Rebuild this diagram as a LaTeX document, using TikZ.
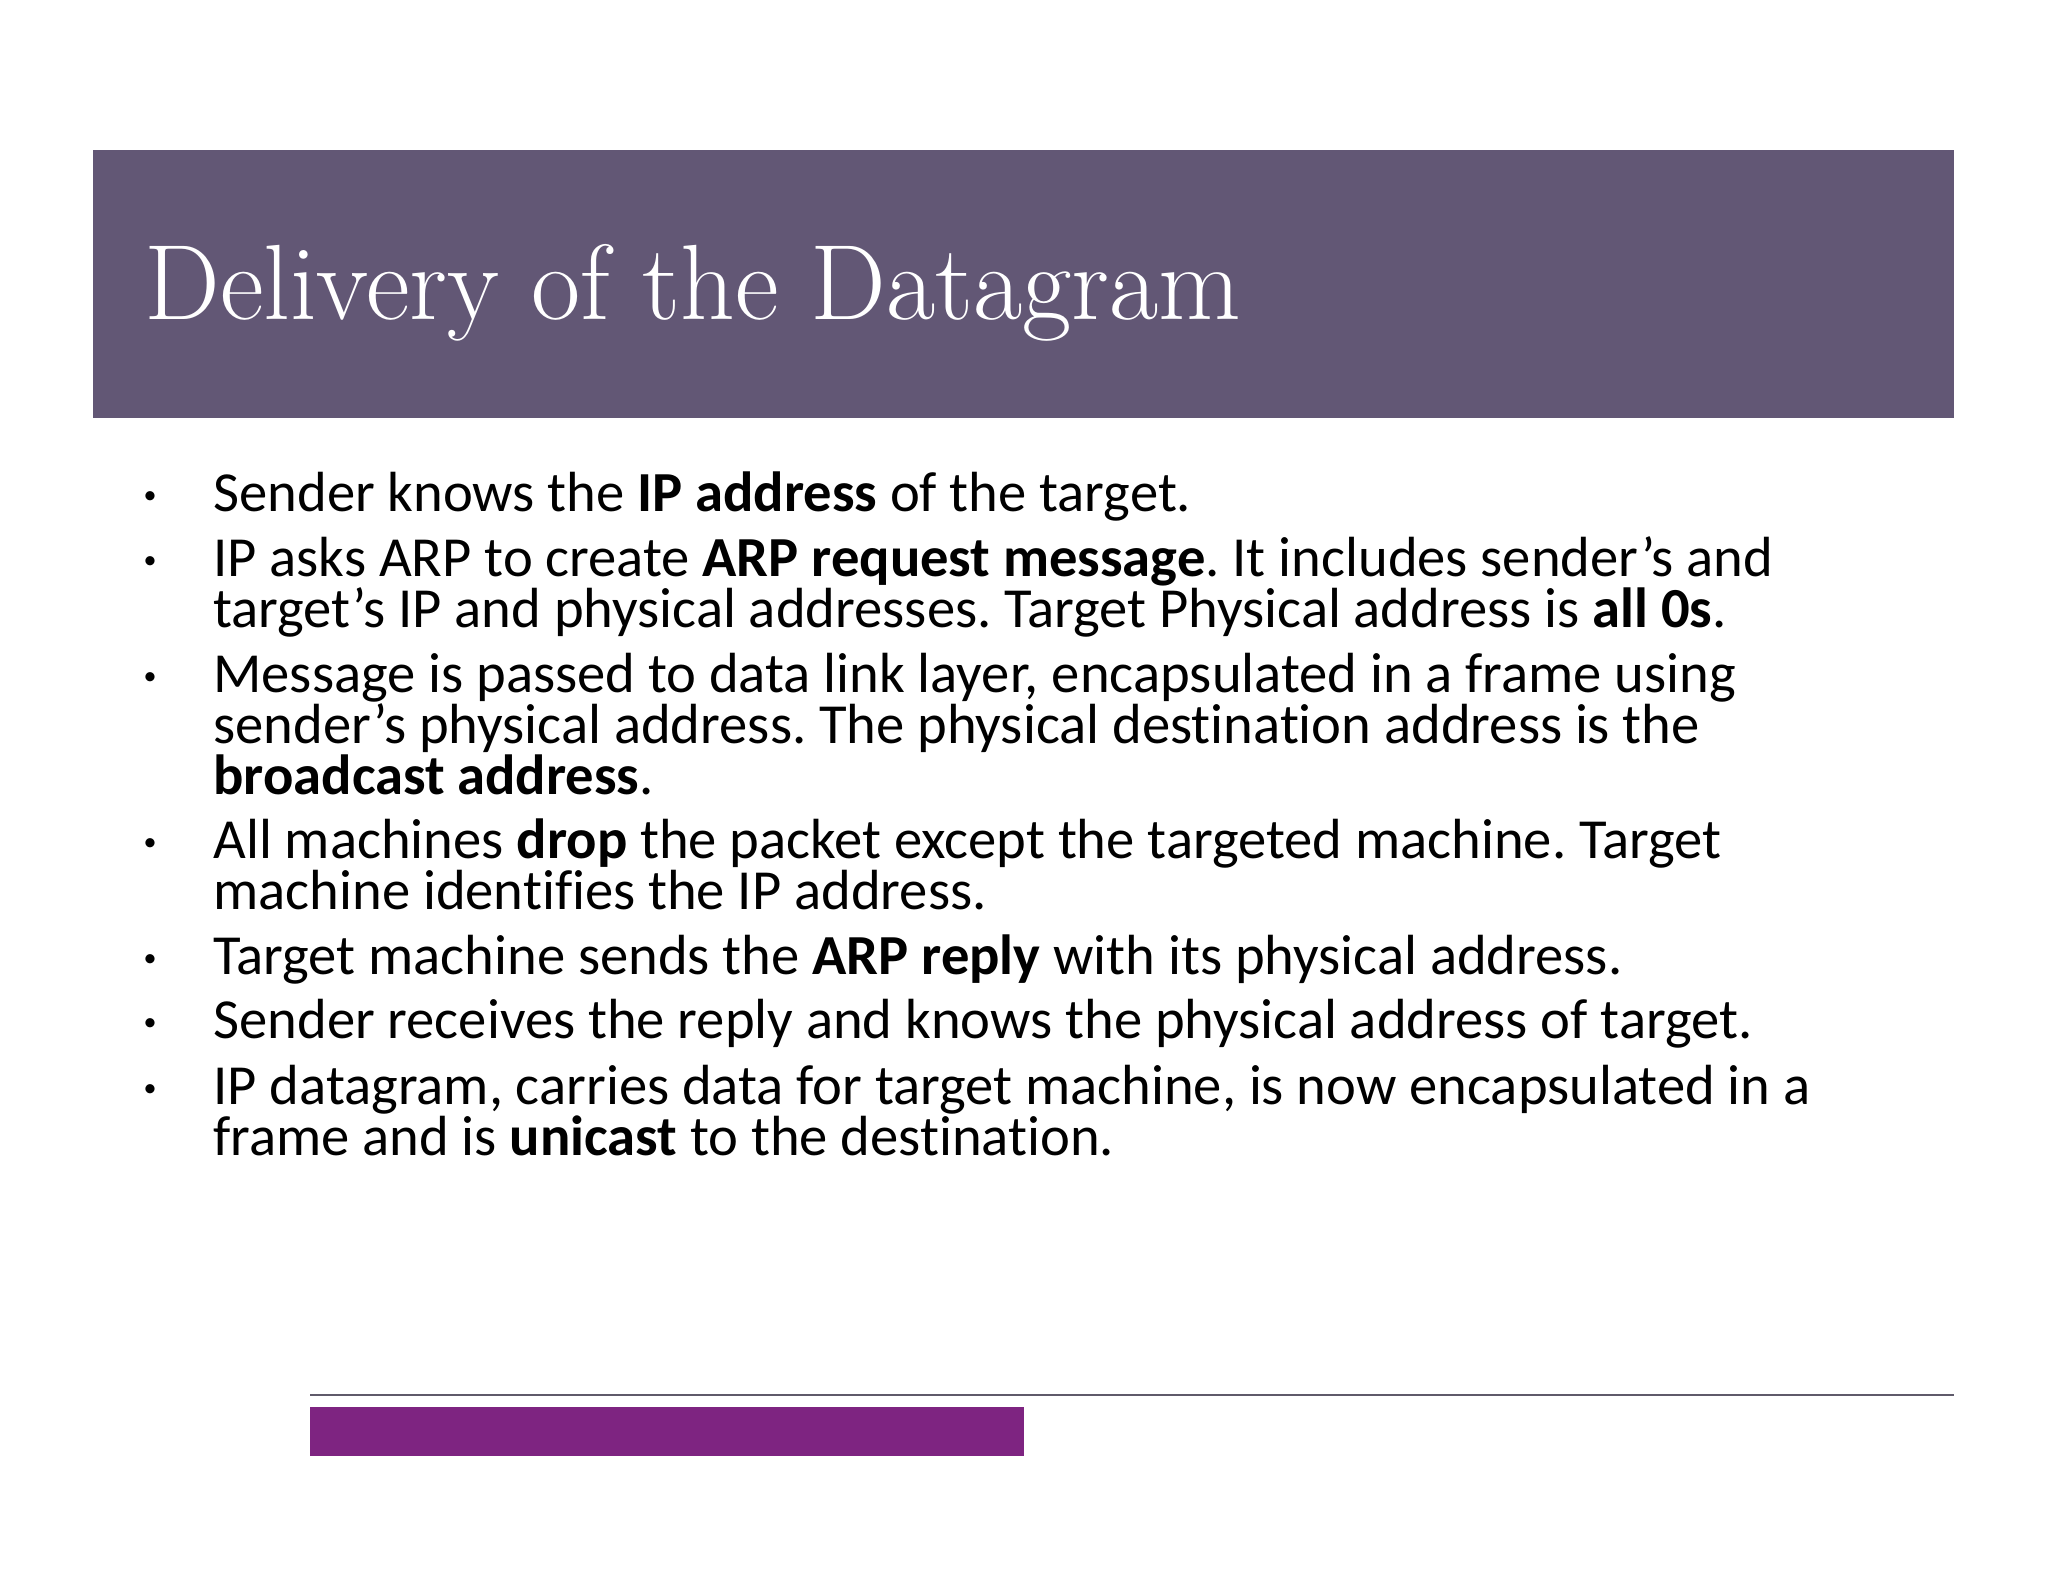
\documentclass[tikz,border=0pt]{standalone}
\usepackage{fontspec}
\setsansfont{Carlito}[Ligatures=NoCommon]
\definecolor{hdr}{HTML}{625775}
\definecolor{bar}{HTML}{7E2481}
\definecolor{rule}{HTML}{5F5A6A}
\frenchspacing
\begin{document}
\begin{tikzpicture}[x=0.5pt,y=-0.5pt,
  body/.style={anchor=base west,inner sep=0,font=\sffamily\fontsize{28.3}{30}\selectfont},
  bul/.style={anchor=base,inner sep=0,font=\sffamily\fontsize{13}{14}\selectfont}]
\useasboundingbox (0,0) rectangle (2048,1582);
\fill[white] (0,0) rectangle (2048,1582);
\fill[hdr] (93,150) rectangle (1954,418);
\node[anchor=base west,inner sep=0,text=white,font=\fontsize{53.5}{60}\selectfont] (title) at (144,320) {Delivery of the Datagram};
\foreach \y in {512,576,692,858,974,1038,1104} {\node[bul] at (150,\y-8) {•};}
\node[body] (l1) at (213,512) {Sender knows the \textbf{IP address} of the target.};
\node[body] (l2) at (213,576) {IP asks ARP to create \textbf{ARP request message}. It includes sender’s and};
\node[body] (l3) at (213,627) {target’s IP and physical addresses. Target Physical address is \textbf{all 0s}.};
\node[body] (l4) at (213,692) {Message is passed to data link layer, encapsulated in a frame using};
\node[body] (l5) at (213,743) {sender’s physical address. The physical destination address is the};
\node[body] (l6) at (213,794) {\textbf{broadcast address}.};
\node[body] (l7) at (213,858) {All machines \textbf{drop} the packet except the targeted machine. Target};
\node[body] (l8) at (213,909) {machine identifies the IP address.};
\node[body] (l9) at (213,974) {Target machine sends the \textbf{ARP reply} with its physical address.};
\node[body] (l10) at (213,1038) {Sender receives the reply and knows the physical address of target.};
\node[body] (l11) at (213,1104) {IP datagram, carries data for target machine, is now encapsulated in a};
\node[body] (l12) at (213,1155) {frame and is \textbf{unicast} to the destination.};
\draw[rule,line width=1.2pt] (310,1395) -- (1954,1395);
\fill[bar] (310,1407) rectangle (1024,1456);
\end{tikzpicture}
\end{document}
